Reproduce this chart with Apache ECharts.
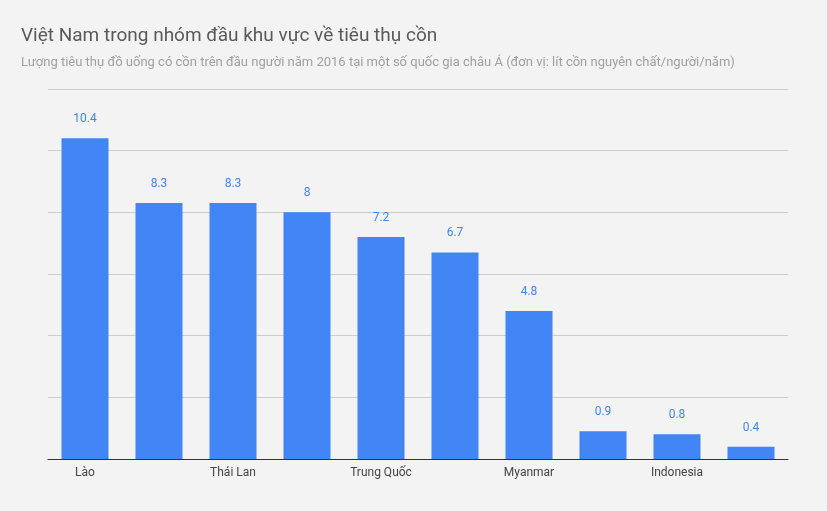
<!DOCTYPE html>
<html><head><meta charset="utf-8">
<script src="https://cdn.jsdelivr.net/npm/echarts@6/dist/echarts.min.js"></script>
<style>html,body{margin:0;padding:0;background:#f3f3f3}#c{width:827px;height:511px}</style>
</head><body><div id="c"></div>
<script>
const categories=["Lào","Việt Nam","Thái Lan","Nhật Bản","Trung Quốc","Campuchia","Myanmar","Malaysia","Indonesia","Brunei"];
const values=[10.4,8.3,8.3,8,7.2,6.7,4.8,0.9,0.8,0.4];
const chart=echarts.init(document.getElementById('c'));
chart.setOption({
  backgroundColor:'#f3f3f3',
  title:{text:'Việt Nam trong nhóm đầu khu vực về tiêu thụ cồn',
    subtext:'Lượng tiêu thụ đồ uống có cồn trên đầu người năm 2016 tại một số quốc gia châu Á (đơn vị: lít cồn nguyên chất/người/năm)',
    left:16,top:22,itemGap:10,
    textStyle:{fontFamily:'Roboto',fontSize:19,fontWeight:'normal',color:'#595959'},
    subtextStyle:{fontFamily:'Roboto',fontSize:13,color:'#a0a0a0'}},
  grid:{left:48,right:39,top:89,bottom:52},
  xAxis:{type:'category',data:categories,axisTick:{show:false},
    axisLine:{lineStyle:{color:'#333',width:1}},
    axisLabel:{fontFamily:'Roboto',fontSize:12,color:'#444',margin:8}},
  yAxis:{type:'value',min:0,max:12,interval:2,axisLabel:{show:false},
    splitLine:{lineStyle:{color:'#cccccc'}}},
  series:[{type:'bar',data:values,barWidth:47,itemStyle:{color:'#4285f4'},
    label:{show:true,position:'top',distance:13,fontFamily:'Roboto',fontSize:12,color:'#4285f4'}}]
});
</script></body></html>
